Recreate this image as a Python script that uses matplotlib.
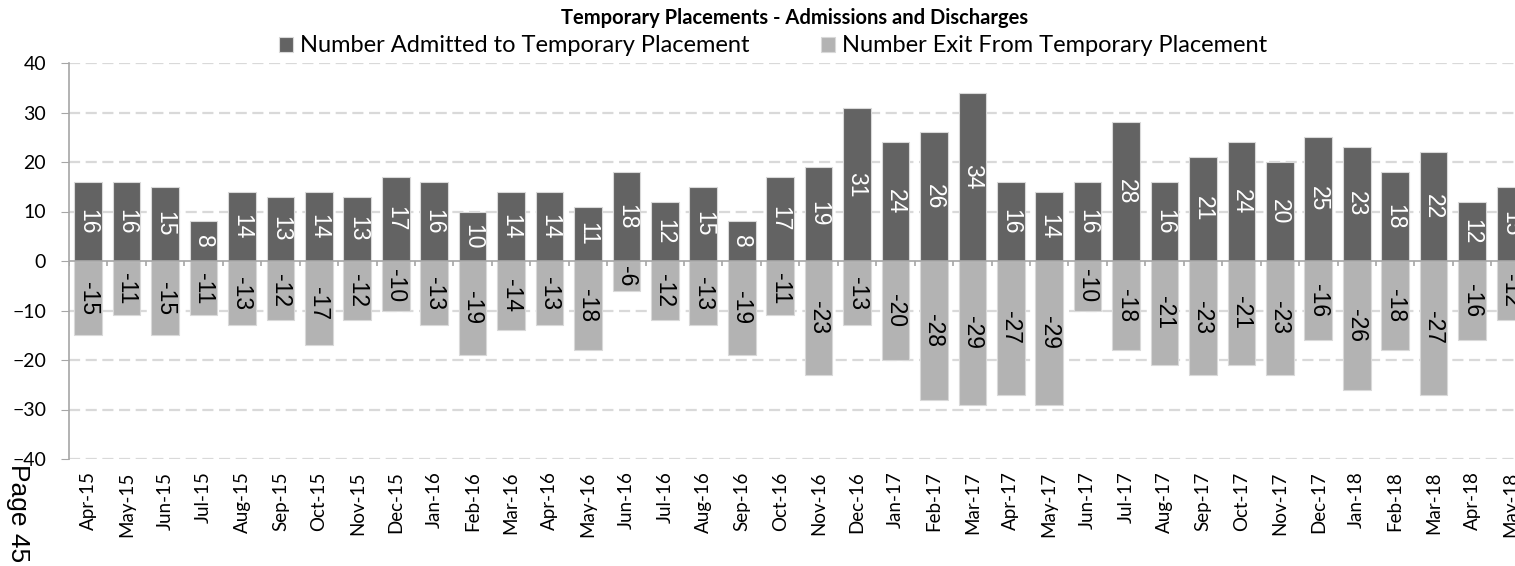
import numpy as np
import matplotlib
matplotlib.use('Agg')
import matplotlib.pyplot as plt

MONTHS = ['Apr-15', 'May-15', 'Jun-15', 'Jul-15', 'Aug-15', 'Sep-15', 'Oct-15', 'Nov-15',
          'Dec-15', 'Jan-16', 'Feb-16', 'Mar-16', 'Apr-16', 'May-16', 'Jun-16', 'Jul-16',
          'Aug-16', 'Sep-16', 'Oct-16', 'Nov-16', 'Dec-16', 'Jan-17', 'Feb-17', 'Mar-17',
          'Apr-17', 'May-17', 'Jun-17', 'Jul-17', 'Aug-17', 'Sep-17', 'Oct-17', 'Nov-17',
          'Dec-17', 'Jan-18', 'Feb-18', 'Mar-18', 'Apr-18', 'May-18']
ADMITTED = [16, 16, 15, 8, 14, 13, 14, 13, 17, 16, 10, 14, 14, 11, 18, 12, 15, 8, 17, 19,
            31, 24, 26, 34, 16, 14, 16, 28, 16, 21, 24, 20, 25, 23, 18, 22, 12, 15]
EXITED = [-15, -11, -15, -11, -13, -12, -17, -12, -10, -13, -19, -14, -13, -18, -6, -12,
          -13, -19, -11, -23, -13, -20, -28, -29, -27, -29, -10, -18, -21, -23, -21, -23,
          -16, -26, -18, -27, -16, -12]

DARK = '#636363'
LIGHT = '#b3b3b3'
GRID = '#d9d9d9'
AXIS = '#a6a6a6'
FONT = ['Lato', 'DejaVu Sans']

W, H = 1515, 566
fig = plt.figure(figsize=(W / 100, H / 100), dpi=100)
# plot area runs past the right edge, so the last month gets cut off
ax = fig.add_axes([69 / W, (H - 459) / H, 38 * 38.44 / W, 396 / H])

x = np.arange(len(MONTHS))
b1 = ax.bar(x, ADMITTED, width=0.72, color=DARK, edgecolor=GRID, linewidth=0.8,
            label='Number Admitted to Temporary Placement', zorder=3)
b2 = ax.bar(x, EXITED, width=0.72, color=LIGHT, edgecolor=GRID, linewidth=0.8,
            label='Number Exit From Temporary Placement', zorder=3)

ax.bar_label(b1, label_type='center', rotation=-90, color='white', fontsize=16.5,
             family='Liberation Sans', zorder=5)
ax.bar_label(b2, label_type='center', rotation=-90, color='black', fontsize=16.5,
             family='Liberation Sans', zorder=5)

ax.set_xlim(-0.5, len(MONTHS) - 0.5)
ax.set_ylim(-40, 40)
ax.set_yticks(range(-40, 41, 10))
for yv in range(-40, 41, 10):
    if yv != 0:
        ax.axhline(yv, color=GRID, lw=1.6, ls=(0, (5, 2.5)), zorder=1)

# category axis sits on the zero line, with ticks between months
ax.axhline(0, color=AXIS, lw=1.2, zorder=4)
ax.vlines(np.arange(len(MONTHS) + 1) - 0.5, -1.1, 0, color=AXIS, lw=1.2, zorder=4)

ax.set_xticks(x)
ax.set_xticklabels(MONTHS, rotation=90, family=FONT, fontsize=13.5)
ax.tick_params(axis='x', length=0, pad=9)
ax.tick_params(axis='y', length=5.5, color=AXIS, labelsize=14, pad=11)
for lbl in ax.get_yticklabels():
    lbl.set_family(FONT)

for s in ['top', 'right', 'bottom']:
    ax.spines[s].set_visible(False)
ax.spines['left'].set_color(AXIS)
ax.spines['left'].set_linewidth(1.2)

fig.text(795 / W, 1 - 18 / H, 'Temporary Placements - Admissions and Discharges',
         ha='center', va='center', fontsize=14.5, fontweight='bold', family=FONT)

leg = fig.legend(handles=[b1, b2], loc='center', bbox_to_anchor=(773 / W, 1 - 46 / H),
                 ncol=2, frameon=False, handlelength=0.6, handleheight=0.6,
                 handletextpad=0.3, columnspacing=3.0, borderpad=0,
                 prop={'family': FONT, 'size': 17})

fig.text(18 / W, 1 - 464 / H, 'Page 45', rotation=-90, ha='center', va='top',
         fontsize=19, family='Liberation Sans')

fig.savefig('out.png', dpi=100)
